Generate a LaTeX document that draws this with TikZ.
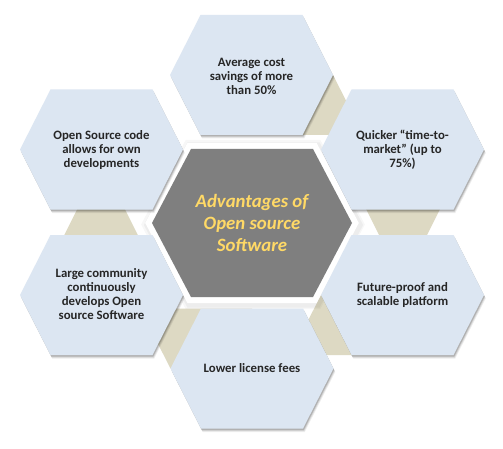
\documentclass[tikz,border=0pt]{standalone}
\usepackage{fontspec}
\setmainfont{Carlito}
\definecolor{hexblue}{HTML}{DCE6F2}
\definecolor{hextan}{HTML}{DDD9C3}
\definecolor{hexgray}{HTML}{7F7F7F}
\definecolor{goldtxt}{HTML}{FFD966}
\definecolor{darktxt}{HTML}{262626}
\tikzset{
  hexpath/.style n args={5}{insert path={({#1-#3},{#2}) -- ({#1-#4},{#2-#5}) -- ({#1+#4},{#2-#5}) -- ({#1+#3},{#2}) -- ({#1+#4},{#2+#5}) -- ({#1-#4},{#2+#5}) -- cycle}},
  outertext/.style={align=center, text=darktxt, font=\fontsize{12.8}{14}\selectfont\bfseries, inner sep=0pt},
  centertext/.style={align=center, text=goldtxt, font=\fontsize{18.8}{22}\selectfont\bfseries\itshape, inner sep=0pt},
  tanpiece/.style={fill=hextan, draw=none},
}
\begin{document}
\begin{tikzpicture}[x=1pt, y=-1pt]
\useasboundingbox (0,0) rectangle (503,449);
\fill[white] (0,0) rectangle (503,449);

% tan connectors
\fill[tanpiece] (333,75) -- (363.5,135) -- (250,135) -- (250,75) -- cycle;
\fill[tanpiece] (336.5,150) -- (469.5,150) -- (403,283) -- cycle;
\fill[tanpiece] (321,295) -- (290.5,355) -- (400,355) -- (400,295) -- cycle;
\fill[tanpiece] (140,308.5) -- (252,308.5) -- (252,368.5) -- (170.5,368.5) -- cycle;
\fill[tanpiece] (167.5,294.5) -- (34.5,294.5) -- (101,161.5) -- cycle;

% center hexagon
\draw[black, opacity=0.03, line width=21pt, line join=miter, hexpath={253}{224.5}{100}{61}{74}];
\draw[black, opacity=0.04, line width=17pt, line join=miter, hexpath={253.5}{225}{100}{61}{74}];
\draw[white, line width=12pt, line join=miter, hexpath={252}{223}{100}{61}{74}];
\fill[hexgray, hexpath={252}{223}{100}{61}{74}];

% outer shadows
\foreach \cx/\cy in {251.5/75, 402.5/149.5, 402.5/295, 252/368.5, 101.5/295, 101.5/149.5} {
  \foreach \d/\op in {3.5/0.07, 2.5/0.10, 1.5/0.16} {
    \fill[black, opacity=\op, hexpath={\cx+\d*0.5}{\cy+\d}{81.5}{51}{60}];
  }
}
% outer hexagons
\foreach \cx/\cy in {251.5/75, 402.5/149.5, 402.5/295, 252/368.5, 101.5/295, 101.5/149.5} {
  \fill[hexblue, hexpath={\cx}{\cy}{81.5}{51}{60}];
}

% texts
\node[centertext] (c) at (252,223) {Advantages of\\Open source\\Software};
\node[outertext] (t1) at (251.5,76) {Average cost\\savings of more\\than 50\%};
\node[outertext] (t2) at (402.5,149.5) {Quicker “time-to-\\market” (up to\\75\%)};
\node[outertext] (t3) at (402.5,295) {Future-proof and\\scalable platform};
\node[outertext] (t4) at (252,368) {Lower license fees};
\node[outertext] (t5) at (101.5,294) {Large community\\continuously\\develops Open\\source Software};
\node[outertext] (t6) at (101.5,150) {Open Source code\\allows for own\\developments};
\end{tikzpicture}
\end{document}
